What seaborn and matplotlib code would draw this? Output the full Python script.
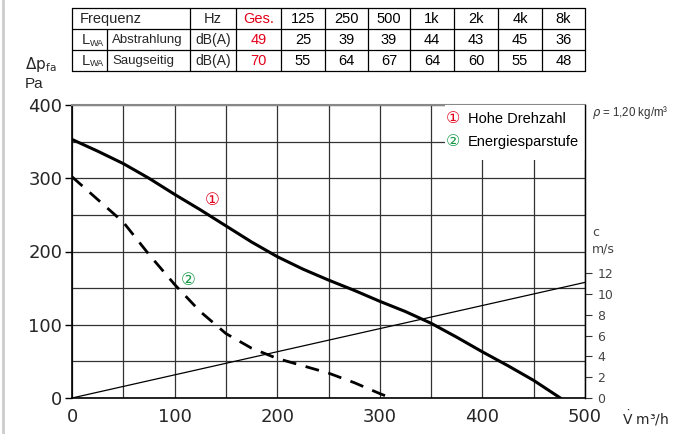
import matplotlib
matplotlib.use("Agg")
import matplotlib.pyplot as plt
from matplotlib.patches import Rectangle
import seaborn as sns
import pandas as pd

# --- data ---
freq_labels = ["Ges.", "125", "250", "500", "1k", "2k", "4k", "8k"]
abstrahlung = ["49", "25", "39", "39", "44", "43", "45", "36"]
saugseitig = ["70", "55", "64", "67", "64", "60", "55", "48"]

# curve 1: Hohe Drehzahl
v_hoch = [0, 25, 50, 75, 100, 125, 150, 175, 200, 225, 250, 275, 300, 325, 350, 375, 400, 425, 450, 476]
p_hoch = [353, 337, 320, 300, 278, 257, 235, 213, 193, 176, 161, 147, 132, 118, 102, 83, 63, 44, 24, 0]
# curve 2: Energiesparstufe
v_spar = [0, 25, 50, 75, 100, 125, 150, 175, 200, 225, 250, 275, 300, 311]
p_spar = [302, 271, 240, 196, 155, 118, 88, 68, 54, 44, 34, 21, 6, 0]
# air velocity c (m/s)
v_c = [0, 500]
c_ms = [0, 11.1]

RED = "#e3001b"
GREEN = "#1b9a4b"

sns.set_style("white")
plt.rcParams["font.family"] = ["DejaVu Sans"]
LIB = ["Liberation Sans", "DejaVu Sans"]

fig = plt.figure(figsize=(6.77, 4.34), dpi=100)
W, H = 677, 434
ax = fig.add_axes([72 / W, 36 / H, 513 / W, 293 / H])

df1 = pd.DataFrame({"V": v_hoch, "p": p_hoch})
df2 = pd.DataFrame({"V": v_spar, "p": p_spar})
sns.lineplot(data=df1, x="V", y="p", ax=ax, color="black", lw=2.2, zorder=5)
sns.lineplot(data=df2, x="V", y="p", ax=ax, color="black", lw=2.0, zorder=5)
ax.lines[-1].set_dashes([5, 3.5])

ax.set_xlim(0, 500)
ax.set_ylim(0, 400)
ax.set_xticks(range(0, 501, 100))
ax.set_yticks(range(0, 401, 100))
ax.set_xticks(range(50, 500, 100), minor=True)
ax.set_yticks(range(50, 400, 100), minor=True)
ax.grid(which="both", color="#333333", lw=0.9, zorder=0)
ax.set_axisbelow(True)
ax.tick_params(which="major", direction="out", length=5, width=1, color="black",
               labelsize=13, pad=2)
ax.tick_params(which="minor", length=0)
ax.set_xlabel("")
ax.set_ylabel("")
for s in ["left", "bottom"]:
    ax.spines[s].set_color("black")
    ax.spines[s].set_linewidth(1.2)
ax.spines["top"].set_color("#888888")
ax.spines["top"].set_linewidth(1.5)
ax.spines["right"].set_color("black")

# white legend box inside plot
ax.add_patch(Rectangle((364, 325), 136, 75, facecolor="white", edgecolor="none", zorder=3))
ax.text(371, 381, "\u2460", color=RED, fontsize=11.5, va="center", ha="center", zorder=6)
ax.text(386, 381, "Hohe Drehzahl", color="black", fontsize=10.5, family=LIB,
        va="center", ha="left", zorder=6)
ax.text(371, 350, "\u2461", color=GREEN, fontsize=11.5, va="center", ha="center", zorder=6)
ax.text(386, 350, "Energiesparstufe", color="black", fontsize=10.5, family=LIB,
        va="center", ha="left", zorder=6)

# curve markers
ax.text(137, 270, "\u2460", color=RED, fontsize=12, ha="center", va="center", zorder=6)
ax.text(113, 161, "\u2461", color=GREEN, fontsize=12, ha="center", va="center", zorder=6)

# velocity axis
ax2 = ax.twinx()
ax2.plot(v_c, c_ms, color="black", lw=0.9)
ax2.set_ylim(0, 400 / 14.22)
ax2.set_yticks(range(0, 13, 2))
ax2.tick_params(axis="y", direction="out", length=5, color="#333333",
                labelsize=9, labelcolor="#444444", pad=4)
ax2.grid(False)
for s in ["top", "left", "bottom"]:
    ax2.spines[s].set_visible(False)
ax2.spines["right"].set_color("black")
ax2.spines["right"].set_linewidth(1.0)
ax2.set_xlim(0, 500)

# axis labels
fig.text(25 / W, 1 - 64 / H, "\u0394p$_{\\mathrm{fa}}$", fontsize=11, va="center", ha="left")
fig.text(25 / W, 1 - 84 / H, "Pa", fontsize=11, family=LIB, va="center", ha="left")
fig.text(592 / W, 1 - 232 / H, "c", fontsize=9, color="#444444", va="center", ha="left")
fig.text(592 / W, 1 - 249 / H, "m/s", fontsize=9, color="#444444", va="center", ha="left")
fig.text(622 / W, 1 - 418 / H, "$\\dot{\\mathrm{V}}$ m\u00b3/h", fontsize=10,
         va="center", ha="left")
fig.text(592 / W, 1 - 113 / H, "$\\rho$ = 1,20 kg/m\u00b3", fontsize=8.3, family=LIB,
         color="#333333", va="center", ha="left")

# left border line of the page
fig.add_artist(plt.Line2D([3 / W, 3 / W], [0, 1], color="#cccccc", lw=2))

# --- noise table ---
tab = fig.add_axes([72 / W, 1 - 71 / H, 513 / W, 63 / H])
tab.set_xlim(72, 585)
tab.set_ylim(71, 8)
tab.axis("off")
col_edges = [72, 190, 236, 281, 325, 368, 410, 454, 498, 542, 585]
row_edges = [8, 29, 50, 71]
for y in row_edges:
    tab.plot([72, 585], [y, y], color="black", lw=0.9, clip_on=False)
for x in col_edges:
    tab.plot([x, x], [8, 71], color="black", lw=0.9, clip_on=False)
tab.plot([107, 107], [29, 71], color="black", lw=0.9, clip_on=False)

row_mid = [(row_edges[i] + row_edges[i + 1]) / 2 + 0.5 for i in range(3)]
kw = dict(fontsize=10.5, family=LIB, va="center")
tab.text(80, row_mid[0], "Frequenz", ha="left", **kw)
tab.text(213, row_mid[0], "Hz", ha="center", **kw)
for i, lab in enumerate(freq_labels):
    cx = (col_edges[i + 2] + col_edges[i + 3]) / 2
    col = RED if i == 0 else "black"
    tab.text(cx, row_mid[0], lab, ha="center", color=col, **kw)
    tab.text(cx, row_mid[1], abstrahlung[i], ha="center", color=col, **kw)
    tab.text(cx, row_mid[2], saugseitig[i], ha="center", color=col, **kw)
for r, name in zip(row_mid[1:], ["Abstrahlung", "Saugseitig"]):
    tab.text(90, r, "L", ha="right", **kw)
    tab.text(90.3, r + 3, "WA", ha="left", fontsize=6.5, family=LIB, va="center")
    tab.text(112, r, name, ha="left", fontsize=9.5, family=LIB, va="center")
    tab.text(213, r, "dB(A)", ha="center", fontsize=10, family=LIB, va="center")

fig.savefig("out.png", dpi=100)
